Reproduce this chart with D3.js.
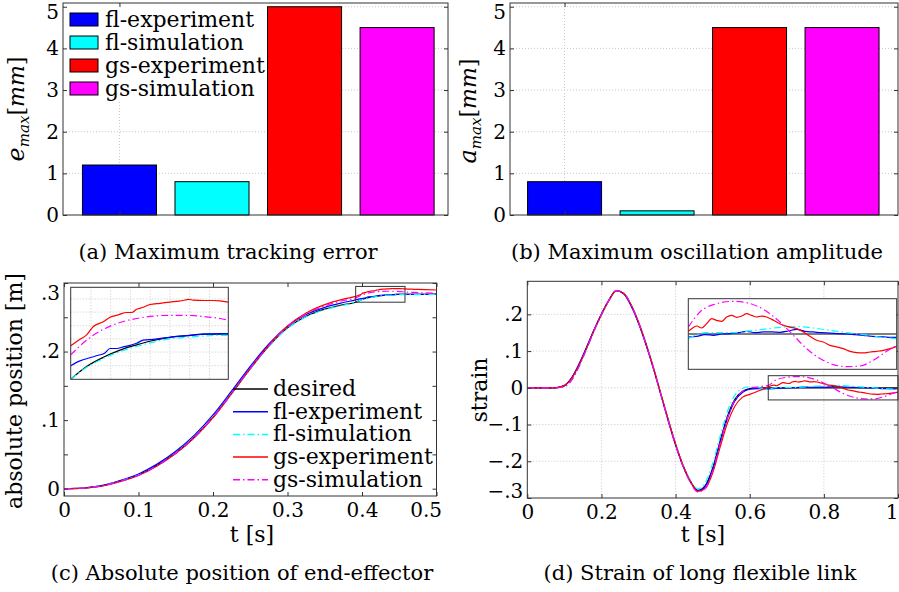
<!DOCTYPE html>
<html>
<head>
<meta charset="utf-8">
<script src="https://cdn.jsdelivr.net/npm/d3@7"></script>
<style>
  body { margin: 0; background: #fff; }
  svg { display: block; }
  text { font-family: "DejaVu Serif", serif; fill: #000; }
</style>
</head>
<body>
<script>
// ---- data: (a) and (b) bar charts
var barNames = ["fl-experiment", "fl-simulation", "gs-experiment", "gs-simulation"]
var eMax = [1.2, 0.8, 5.0, 4.5]
var aMax = [0.8, 0.1, 4.5, 4.5]
var barYTicks = [0, 1, 2, 3, 4, 5]
var barXTicks = [1]

// ---- data: (c) absolute position
var lineNames = ["desired", "fl-experiment", "fl-simulation", "gs-experiment", "gs-simulation"]
var posT = [0, 0.025, 0.05, 0.075, 0.1, 0.125, 0.15, 0.175, 0.2, 0.225, 0.25, 0.275, 0.3, 0.325, 0.35, 0.375]
var posDesired = [0, 0.0008, 0.0040, 0.0110, 0.0200, 0.0340, 0.0520, 0.0750, 0.1040, 0.1390, 0.1750, 0.2080, 0.2345, 0.2515, 0.2618, 0.2685]
var posFlExp = [0, 0.0009, 0.0045, 0.0118, 0.0215, 0.0358, 0.0545, 0.0780, 0.1075, 0.1425, 0.1785, 0.2110, 0.2370, 0.2540, 0.2645, 0.2715]
var posFlSim = [0, 0.0008, 0.0040, 0.0108, 0.0197, 0.0335, 0.0515, 0.0743, 0.1032, 0.1382, 0.1742, 0.2072, 0.2337, 0.2507, 0.2610, 0.2675]
var posGsExp = [0, 0.0006, 0.0035, 0.0102, 0.0192, 0.0332, 0.0512, 0.0745, 0.1035, 0.1388, 0.1752, 0.2092, 0.2372, 0.2562, 0.2685, 0.2765]
var posGsSim = [0, 0.0007, 0.0037, 0.0105, 0.0195, 0.0335, 0.0515, 0.0748, 0.1038, 0.1390, 0.1752, 0.2088, 0.2364, 0.2546, 0.2665, 0.2745]
// zoomed window of (c)
var zoomPosDesired = [[0.3915, 0.2720], [0.3982, 0.2752], [0.4052, 0.2775], [0.4122, 0.2793], [0.4192, 0.2806], [0.4262, 0.2817], [0.4332, 0.2825], [0.4402, 0.2829], [0.4472, 0.2833], [0.4542, 0.2833], [0.4577, 0.2833]]
var zoomPosFlExp = [[0.3915, 0.2754], [0.3954, 0.2766], [0.3996, 0.2774], [0.4031, 0.2780], [0.4059, 0.2786], [0.4080, 0.2797], [0.4108, 0.2797], [0.4136, 0.2801], [0.4164, 0.2805], [0.4192, 0.2810], [0.4220, 0.2818], [0.4262, 0.2820], [0.4332, 0.2825], [0.4402, 0.2829], [0.4472, 0.2833], [0.4542, 0.2834], [0.4577, 0.2834]]
var zoomPosFlSim = [[0.3915, 0.2720], [0.3982, 0.2750], [0.4052, 0.2772], [0.4122, 0.2789], [0.4192, 0.2802], [0.4262, 0.2813], [0.4332, 0.2821], [0.4402, 0.2825], [0.4472, 0.2828], [0.4542, 0.2830], [0.4577, 0.2830]]
var zoomPosGsExp = [[0.3915, 0.2804], [0.3954, 0.2820], [0.3982, 0.2831], [0.4010, 0.2852], [0.4052, 0.2864], [0.4080, 0.2875], [0.4115, 0.2881], [0.4150, 0.2887], [0.4171, 0.2887], [0.4192, 0.2895], [0.4220, 0.2900], [0.4248, 0.2907], [0.4290, 0.2910], [0.4332, 0.2913], [0.4360, 0.2915], [0.4388, 0.2917], [0.4409, 0.2920], [0.4430, 0.2918], [0.4472, 0.2917], [0.4514, 0.2917], [0.4542, 0.2916], [0.4577, 0.2913]]
var zoomPosGsSim = [[0.3915, 0.2781], [0.3982, 0.2818], [0.4052, 0.2845], [0.4122, 0.2862], [0.4192, 0.2872], [0.4262, 0.2878], [0.4332, 0.2880], [0.4402, 0.2880], [0.4472, 0.2877], [0.4542, 0.2872], [0.4577, 0.2868]]
var zoomPosGridT = [0.4, 0.4083, 0.4166, 0.4249, 0.4332, 0.4415, 0.4498]
var zoomPosGridV = [0.2754, 0.2788, 0.2821, 0.2854, 0.2888, 0.2921]
var posTailT = [0.47, 0.485, 0.5]
var posTailDesired = [0.2834, 0.2836, 0.2838]
var posTailFlExp = [0.2835, 0.2836, 0.2836]
var posTailFlSim = [0.2831, 0.2832, 0.2832]
var posTailGsExp = [0.2908, 0.2902, 0.2898]
var posTailGsSim = [0.2862, 0.2856, 0.2850]
var posXTicks = [0, 0.1, 0.2, 0.3, 0.4, 0.5]
var posYTicks = [0, 0.05, 0.1, 0.15, 0.2, 0.25, 0.3]

// ---- data: (d) strain
var strainT = [0, 0.06, 0.08, 0.10, 0.12, 0.14, 0.16, 0.18, 0.20, 0.22, 0.24, 0.26, 0.28, 0.30, 0.32, 0.34, 0.36, 0.38, 0.40, 0.42, 0.44, 0.46, 0.48, 0.50, 0.52, 0.54, 0.56, 0.58, 0.60, 0.62, 0.64]
var strainDesired = [0, 0, 0.0005, 0.006, 0.027, 0.064, 0.109, 0.157, 0.200, 0.238, 0.2645, 0.257, 0.225, 0.178, 0.120, 0.055, -0.016, -0.087, -0.154, -0.211, -0.254, -0.279, -0.266, -0.219, -0.145, -0.077, -0.031, -0.010, -0.002, 0, 0]
var strainFlExp = [0, 0, 0.0005, 0.006, 0.028, 0.066, 0.111, 0.158, 0.201, 0.239, 0.2645, 0.256, 0.223, 0.176, 0.118, 0.053, -0.018, -0.089, -0.156, -0.213, -0.256, -0.280, -0.268, -0.223, -0.150, -0.083, -0.036, -0.013, -0.004, -0.002, -0.003]
var strainFlSim = [0, 0, 0.0003, 0.004, 0.022, 0.058, 0.104, 0.154, 0.198, 0.237, 0.2640, 0.258, 0.227, 0.180, 0.122, 0.057, -0.014, -0.085, -0.152, -0.209, -0.252, -0.275, -0.258, -0.206, -0.132, -0.064, -0.020, -0.002, 0.003, 0.001, -0.003]
var strainGsExp = [0, 0, 0.0005, 0.006, 0.026, 0.063, 0.108, 0.156, 0.199, 0.237, 0.2640, 0.257, 0.226, 0.179, 0.121, 0.056, -0.015, -0.086, -0.153, -0.211, -0.255, -0.282, -0.274, -0.232, -0.162, -0.096, -0.050, -0.026, -0.018, -0.010, -0.002]
var strainGsSim = [0, 0, 0.0002, 0.003, 0.021, 0.059, 0.106, 0.155, 0.199, 0.238, 0.2645, 0.258, 0.226, 0.178, 0.119, 0.053, -0.018, -0.089, -0.157, -0.214, -0.258, -0.284, -0.274, -0.227, -0.152, -0.082, -0.033, -0.010, -0.001, 0.002, 0.005]
// zoomed window of (d), t from 0.65 to 1
var zoomStrainDesired = [[0.65, 0], [1.0, 0]]
var zoomStrainFlExp = [[0.65, -0.0028], [0.664, -0.0022], [0.678, -0.0006], [0.692, -0.0012], [0.706, 0.0000], [0.72, 0.0003], [0.734, 0.0012], [0.748, 0.0025], [0.762, 0.0012], [0.776, 0.0019], [0.79, 0.0019], [0.804, 0.0016], [0.818, 0.0028], [0.832, 0.0044], [0.846, 0.0025], [0.86, 0.0019], [0.874, 0.0012], [0.888, 0.0009], [0.902, 0.0003], [0.916, 0.0000], [0.93, -0.0006], [0.944, -0.0012], [0.958, -0.0022], [0.972, -0.0025], [0.986, -0.0031], [1.0, -0.0031]]
var zoomStrainFlSim = [[0.65, -0.0044], [0.664, -0.0006], [0.678, 0.0012], [0.692, 0.0012], [0.72, 0.0012], [0.748, 0.0025], [0.776, 0.0044], [0.804, 0.0062], [0.832, 0.0069], [0.86, 0.0056], [0.888, 0.0034], [0.916, 0.0012], [0.944, -0.0006], [0.972, -0.0028], [1.0, -0.0044]]
var zoomStrainGsExp = [[0.65, 0.0025], [0.6556, 0.0050], [0.664, 0.0075], [0.6724, 0.0056], [0.6808, 0.0097], [0.6892, 0.0143], [0.6976, 0.0128], [0.706, 0.0118], [0.7144, 0.0159], [0.7228, 0.0174], [0.7312, 0.0156], [0.7396, 0.0168], [0.748, 0.0190], [0.7564, 0.0174], [0.7648, 0.0159], [0.7732, 0.0168], [0.7816, 0.0159], [0.79, 0.0137], [0.7984, 0.0112], [0.8096, 0.0081], [0.8208, 0.0065], [0.832, 0.0050], [0.8432, 0.0019], [0.8544, -0.0022], [0.8656, -0.0059], [0.8768, -0.0075], [0.888, -0.0106], [0.8992, -0.0121], [0.9104, -0.0137], [0.9216, -0.0162], [0.9328, -0.0174], [0.944, -0.0177], [0.9552, -0.0168], [0.9664, -0.0162], [0.9776, -0.0153], [0.9888, -0.0137], [1.0, -0.0115]]
var zoomStrainGsSim = [[0.65, 0.0065], [0.6696, 0.0206], [0.692, 0.0274], [0.7256, 0.0305], [0.748, 0.0293], [0.776, 0.0230], [0.804, 0.0112], [0.8264, -0.0012], [0.8488, -0.0137], [0.8712, -0.0230], [0.8936, -0.0286], [0.916, -0.0305], [0.9384, -0.0299], [0.9608, -0.0246], [0.9832, -0.0162], [1.0, -0.0106]]
var strainXTicks = [0, 0.2, 0.4, 0.6, 0.8, 1]
var strainYTicks = [-0.3, -0.2, -0.1, 0, 0.1, 0.2]

// ---- styles
var barColors = ["#0000ff", "#00ffff", "#ff0000", "#ff00ff"]
var lineStyles = [
	{ color: "#000000", dash: null },
	{ color: "#0000ff", dash: null },
	{ color: "#00ffff", dash: "7,3,1.5,3" },
	{ color: "#ff0000", dash: null },
	{ color: "#ff00ff", dash: "7,3,1.5,3" }
]
var gridColor = "#c8c8c8"
var frameColor = "#333333"
var font = '"DejaVu Serif", serif'

var svg = d3.select("body").append("svg")
	.attr("width", 899)
	.attr("height", 592);

function pairs(ts, vs) { return ts.map(function (t, i) { return [t, vs[i]]; }); }

function shortNum(v) {
	if (Math.abs(v) < 1e-9) return "0";
	return d3.format(".1f")(v).replace("0.", ".");
}

var clipId = 0
function clipTo(g, box) {
	var id = "clip" + (clipId++);
	g.append("clipPath").attr("id", id).append("rect")
		.attr("x", box.l).attr("y", box.t).attr("width", box.r - box.l).attr("height", box.b - box.t);
	return "url(#" + id + ")";
}

function frame(g, box) {
	g.append("rect")
		.attr("x", box.l).attr("y", box.t)
		.attr("width", box.r - box.l).attr("height", box.b - box.t)
		.attr("fill", "none").attr("stroke", frameColor).attr("stroke-width", 1);
}

// inner ticks on the four sides + labels on left / bottom
// clampTop / clampBot: how far label centres must stay inside the box
function axes(g, box, x, y, xTicks, yTicks, xFmt, yFmt, clampTop, clampBot) {
	var gl = g.append("g").attr("transform", "translate(" + box.l + ",0)")
		.call(d3.axisLeft(y).tickValues(yTicks).tickSize(-4).tickPadding(4).tickFormat(yFmt));
	g.append("g").attr("transform", "translate(" + box.r + ",0)")
		.call(d3.axisRight(y).tickValues(yTicks).tickSize(-4).tickFormat(""));
	var gb = g.append("g").attr("transform", "translate(0," + box.b + ")")
		.call(d3.axisBottom(x).tickValues(xTicks).tickSize(-4).tickPadding(7).tickFormat(xFmt));
	g.append("g").attr("transform", "translate(0," + box.t + ")")
		.call(d3.axisTop(x).tickValues(xTicks).tickSize(-4).tickFormat(""));
	g.selectAll(".domain").remove();
	g.selectAll(".tick line").attr("stroke", frameColor);
	g.selectAll("g").attr("font-family", font).attr("font-size", 20);
	g.selectAll(".tick text").attr("fill", "#000");
	gl.selectAll(".tick text").attr("y", function (d) {
		var ty = y(d);
		return Math.max(box.t + clampTop, Math.min(box.b - clampBot, ty)) - ty;
	});
	gb.selectAll(".tick text").attr("x", function (d) {
		var tx = x(d), half = this.getComputedTextLength() / 2;
		return Math.min(tx, box.r + 5 - half, 898 - half) - tx;
	});
}

function grid(g, box, x, y, xTicks, yTicks) {
	g.selectAll(null).data(yTicks).enter().append("line")
		.attr("x1", box.l).attr("x2", box.r)
		.attr("y1", function (d) { return y(d); }).attr("y2", function (d) { return y(d); })
		.attr("stroke", gridColor).attr("stroke-dasharray", "1,2");
	g.selectAll(null).data(xTicks).enter().append("line")
		.attr("y1", box.t).attr("y2", box.b)
		.attr("x1", function (d) { return x(d); }).attr("x2", function (d) { return x(d); })
		.attr("stroke", gridColor).attr("stroke-dasharray", "1,2");
}

function drawLines(g, series, x, y, clip, width) {
	var line = d3.line()
		.x(function (d) { return x(d[0]); })
		.y(function (d) { return y(d[1]); })
		.curve(d3.curveMonotoneX);
	g.append("g").attr("clip-path", clip)
		.selectAll("path").data(series).enter().append("path")
		.attr("d", function (d) { return line(d); })
		.attr("fill", "none")
		.attr("stroke", function (d, i) { return lineStyles[i].color; })
		.attr("stroke-dasharray", function (d, i) { return lineStyles[i].dash; })
		.attr("stroke-width", width);
}

function caption(txt, cx, by) {
	svg.append("text").attr("x", cx).attr("y", by)
		.attr("text-anchor", "middle").attr("font-size", 21).text(txt);
}

function rotLabel(cx, cy) {
	return svg.append("text")
		.attr("transform", "translate(" + cx + "," + cy + ") rotate(-90)")
		.attr("text-anchor", "middle").attr("font-size", 22);
}

function maxLabel(cx, cy, letter) {
	var t = rotLabel(cx, cy);
	t.append("tspan").attr("font-style", "italic").attr("font-size", 24).text(letter);
	t.append("tspan").attr("font-style", "italic").attr("font-size", 15).attr("dy", 5).text("max");
	t.append("tspan").attr("dy", -5).text("[");
	t.append("tspan").attr("font-style", "italic").text("mm");
	t.append("tspan").text("]");
}

// ---- bar panels
function barPanel(box, xDom, values, legend) {
	var x = d3.scaleLinear().domain(xDom).range([box.l, box.r]);
	var y = d3.scaleLinear().domain([0, 5.09]).range([box.b, box.t]);
	var g = svg.append("g");
	grid(g, box, x, y, barXTicks, barYTicks.filter(function (d) { return d > 0; }));

	if (legend) {
		var lg = g.append("g");
		lg.append("rect").attr("x", box.l + 3).attr("y", box.t + 2).attr("width", 200).attr("height", 96).attr("fill", "#fff");
		var rows = lg.selectAll(null).data(barNames).enter().append("g")
			.attr("transform", function (d, i) { return "translate(" + (box.l + 7) + "," + (box.t + 16.5 + i * 23) + ")"; });
		rows.append("rect").attr("x", 0).attr("y", -6.5).attr("width", 28).attr("height", 13)
			.attr("fill", function (d, i) { return barColors[i]; }).attr("stroke", "#000");
		rows.append("text").attr("x", 35).attr("y", 7).attr("font-size", 22).text(function (d) { return d; });
	}

	g.selectAll(null).data(values).enter().append("rect")
		.attr("x", function (d, i) { return x(i + 1 - 0.4); })
		.attr("width", x(1.4) - x(0.6))
		.attr("y", function (d) { return y(d); })
		.attr("height", function (d) { return y(0) - y(d); })
		.attr("fill", function (d, i) { return barColors[i]; })
		.attr("stroke", "#000").attr("stroke-width", 1);

	axes(g, box, x, y, barXTicks, barYTicks, function () { return ""; }, d3.format("d"), 9, -10);
	frame(g, box);
}

var boxA = { l: 63, r: 448, t: 3, b: 215 }
var boxB = { l: 510, r: 898, t: 3, b: 215 }
barPanel(boxA, [0.39, 4.55], eMax, true);
barPanel(boxB, [0.41, 4.605], aMax, false);
maxLabel(24, 109, "e");
maxLabel(476, 111, "a");
caption("(a) Maximum tracking error", 228, 259);
caption("(b) Maximum oscillation amplitude", 697, 259);

// ---- (c) absolute position
var boxC = { l: 64, r: 436.5, t: 283, b: 496 }
var xC = d3.scaleLinear().domain([0, 0.5]).range([boxC.l, boxC.r]);
var yC = d3.scaleLinear().domain([-0.0107, 0.3]).range([boxC.b, boxC.t]);
var posHeads = [posDesired, posFlExp, posFlSim, posGsExp, posGsSim]
var posZooms = [zoomPosDesired, zoomPosFlExp, zoomPosFlSim, zoomPosGsExp, zoomPosGsSim]
var posTails = [posTailDesired, posTailFlExp, posTailFlSim, posTailGsExp, posTailGsSim]
var posSeries = posHeads.map(function (h, i) {
	return pairs(posT, h).concat(posZooms[i], pairs(posTailT, posTails[i]));
});
var gC = svg.append("g");
drawLines(gC, posSeries, xC, yC, clipTo(gC, boxC), 1.2);
axes(gC, boxC, xC, yC, posXTicks, posYTicks, d3.format(""),
	function (d) { return Math.abs(Math.round(d * 10) - d * 10) < 1e-6 ? shortNum(d) : ""; }, 10, 7);
frame(gC, boxC);

// zoom window and inset of (c)
var zC = { x0: 0.3915, x1: 0.4577, y0: 0.272, y1: 0.295 }
gC.append("rect").attr("x", xC(zC.x0)).attr("y", yC(zC.y1))
	.attr("width", xC(zC.x1) - xC(zC.x0)).attr("height", yC(zC.y0) - yC(zC.y1))
	.attr("fill", "none").attr("stroke", frameColor);
var insC = { l: 70.7, r: 228.3, t: 287.3, b: 379.3 }
var ixC = d3.scaleLinear().domain([zC.x0, zC.x1]).range([insC.l, insC.r]);
var iyC = d3.scaleLinear().domain([zC.y0, zC.y1]).range([insC.b, insC.t]);
var giC = svg.append("g");
giC.append("rect").attr("x", insC.l).attr("y", insC.t).attr("width", insC.r - insC.l).attr("height", insC.b - insC.t).attr("fill", "#fff");
grid(giC, insC, ixC, iyC, zoomPosGridT, zoomPosGridV);
drawLines(giC, posZooms, ixC, iyC, clipTo(giC, insC), 1.2);
frame(giC, insC);

// legend of (c)
var legC = svg.append("g").selectAll(null).data(lineNames).enter().append("g")
	.attr("transform", function (d, i) { return "translate(233," + (389 + i * 22.7) + ")"; });
legC.append("line").attr("x1", 0).attr("x2", 35).attr("y1", 0).attr("y2", 0)
	.attr("stroke", function (d, i) { return lineStyles[i].color; })
	.attr("stroke-dasharray", function (d, i) { return lineStyles[i].dash; })
	.attr("stroke-width", 1.5);
legC.append("text").attr("x", 40).attr("y", 7).attr("font-size", 22).text(function (d) { return d; });

rotLabel(22, 391).text("absolute position [m]");
svg.append("text").attr("x", 252).attr("y", 542).attr("text-anchor", "middle").attr("font-size", 22).text("t [s]");
caption("(c) Absolute position of end-effector", 242, 580);

// ---- (d) strain
var boxD = { l: 527.3, r: 898, t: 281.3, b: 498 }
var xD = d3.scaleLinear().domain([0, 1]).range([boxD.l, boxD.r]);
var yD = d3.scaleLinear().domain([-0.3, 0.29]).range([boxD.b, boxD.t]);
var strainHeads = [strainDesired, strainFlExp, strainFlSim, strainGsExp, strainGsSim]
var strainZooms = [zoomStrainDesired, zoomStrainFlExp, zoomStrainFlSim, zoomStrainGsExp, zoomStrainGsSim]
var strainSeries = strainHeads.map(function (h, i) { return pairs(strainT, h).concat(strainZooms[i]); });
var gD = svg.append("g");
grid(gD, boxD, xD, yD, strainXTicks.slice(1, -1), strainYTicks.slice(1));
drawLines(gD, strainSeries, xD, yD, clipTo(gD, boxD), 1.2);
axes(gD, boxD, xD, yD, strainXTicks, strainYTicks, d3.format(""), shortNum, 10, 7);
frame(gD, boxD);

var zD = { x0: 0.65, x1: 1.0, y0: -0.033, y1: 0.033 }
gD.append("rect").attr("x", xD(zD.x0)).attr("y", yD(zD.y1))
	.attr("width", xD(zD.x1) - xD(zD.x0)).attr("height", yD(zD.y0) - yD(zD.y1))
	.attr("fill", "none").attr("stroke", frameColor);
var insD = { l: 688.3, r: 896.7, t: 298.7, b: 369.3 }
var ixD = d3.scaleLinear().domain([zD.x0, zD.x1]).range([insD.l, insD.r]);
var iyD = d3.scaleLinear().domain([zD.y0, zD.y1]).range([insD.b, insD.t]);
var giD = svg.append("g");
giD.append("rect").attr("x", insD.l).attr("y", insD.t).attr("width", insD.r - insD.l).attr("height", insD.b - insD.t).attr("fill", "#fff");
drawLines(giD, strainZooms, ixD, iyD, clipTo(giD, insD), 1.2);
frame(giD, insD);

rotLabel(487, 390).text("strain");
svg.append("text").attr("x", 703).attr("y", 542).attr("text-anchor", "middle").attr("font-size", 22).text("t [s]");
caption("(d) Strain of long flexible link", 700, 580);
</script>
</body>
</html>
